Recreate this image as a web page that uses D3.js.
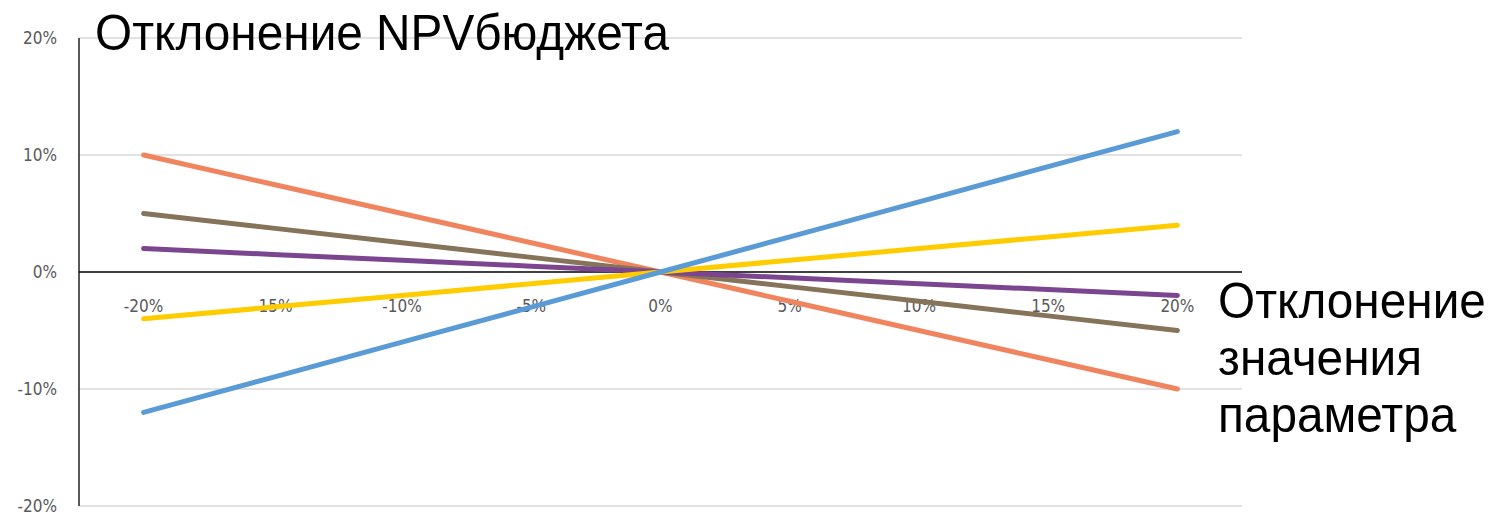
<!DOCTYPE html>
<html>
<head>
<meta charset="utf-8">
<script src="https://cdn.jsdelivr.net/npm/d3@7"></script>
<style>
  body { margin: 0; background: #fff; }
  svg { display: block; }
</style>
</head>
<body>
<div id="chart"></div>
<script>
const WIDTH = 1491;
const HEIGHT = 516;

// категории по оси X
const categories = ["-20%", "-15%", "-10%", "-5%", "0%", "5%", "10%", "15%", "20%"];
const yTicks = [-0.2, -0.1, 0, 0.1, 0.2];

// ряды
const blue   = [-0.12, -0.09, -0.06, -0.03, 0, 0.03, 0.06, 0.09, 0.12];
const orange = [0.10, 0.075, 0.05, 0.025, 0, -0.025, -0.05, -0.075, -0.10];
const brown  = [0.05, 0.0375, 0.025, 0.0125, 0, -0.0125, -0.025, -0.0375, -0.05];
const purple = [0.02, 0.015, 0.01, 0.005, 0, -0.005, -0.01, -0.015, -0.02];
const yellow = [-0.04, -0.03, -0.02, -0.01, 0, 0.01, 0.02, 0.03, 0.04];

const series = [
  { values: orange, color: "#F0845F" },
  { values: brown, color: "#85735A" },
  { values: purple, color: "#7C4590" },
  { values: yellow, color: "#FFCC00" },
  { values: blue, color: "#5B9BD5" }
];

const margin = { left: 79, right: 249, top: 38, bottom: 10 };

const svg = d3.select("#chart").append("svg")
  .attr("width", WIDTH)
  .attr("height", HEIGHT);

const x = d3.scaleBand()
  .domain(categories)
  .range([margin.left, WIDTH - margin.right]);

const y = d3.scaleLinear()
  .domain([-0.2, 0.2])
  .range([HEIGHT - margin.bottom, margin.top]);

const pct = d3.formatLocale({ decimal: ".", thousands: " ", grouping: [3], currency: ["", ""], minus: "-" }).format(".0%");

const tickFont = "'DejaVu Sans Condensed', 'Liberation Sans', sans-serif";

// сетка
svg.append("g")
  .selectAll("line")
  .data(yTicks.filter(d => d !== 0))
  .enter()
  .append("line")
  .attr("x1", margin.left)
  .attr("x2", WIDTH - margin.right)
  .attr("y1", d => y(d))
  .attr("y2", d => y(d))
  .attr("stroke", "#d9d9d9")
  .attr("stroke-width", 1.3);

// подписи оси Y
svg.append("g")
  .selectAll("text")
  .data(yTicks)
  .enter()
  .append("text")
  .attr("x", 57)
  .attr("y", d => y(d) + 6)
  .attr("text-anchor", "end")
  .attr("font-family", tickFont)
  .attr("font-size", "17px")
  .attr("fill", "#595959")
  .text(d => pct(d));

// ось Y
svg.append("line")
  .attr("x1", margin.left).attr("x2", margin.left)
  .attr("y1", y(0.2)).attr("y2", y(-0.2))
  .attr("stroke", "#000").attr("stroke-width", 1.3);

// нулевая линия
svg.append("line")
  .attr("x1", margin.left).attr("x2", WIDTH - margin.right)
  .attr("y1", y(0)).attr("y2", y(0))
  .attr("stroke", "#000").attr("stroke-width", 1.3);

// подписи категорий
svg.append("g")
  .selectAll("text")
  .data(categories)
  .enter()
  .append("text")
  .attr("x", d => x(d) + x.bandwidth() / 2)
  .attr("y", y(0) + 40)
  .attr("text-anchor", "middle")
  .attr("font-family", tickFont)
  .attr("font-size", "17px")
  .attr("fill", "#595959")
  .text(d => d);

// линии
const line = d3.line()
  .x((d, i) => x(categories[i]) + x.bandwidth() / 2)
  .y(d => y(d));

svg.append("g")
  .selectAll("path")
  .data(series)
  .enter()
  .append("path")
  .attr("d", d => line(d.values))
  .attr("fill", "none")
  .attr("stroke", d => d.color)
  .attr("stroke-width", 5)
  .attr("stroke-linecap", "round");

// заголовки осей (узкий Arial — сжимаем по горизонтали)
const bigFont = "'Liberation Sans', Arial, sans-serif";
const squeeze = 0.955;

svg.append("text")
  .attr("transform", `translate(95,50) scale(${squeeze},1)`)
  .attr("font-family", bigFont)
  .attr("font-size", "50px")
  .attr("fill", "#000")
  .text("Отклонение NPVбюджета");

const xTitle = svg.append("text")
  .attr("transform", `translate(1218,318) scale(${squeeze},1)`)
  .attr("font-family", bigFont)
  .attr("font-size", "50px")
  .attr("fill", "#000");

["Отклонение", "значения", "параметра"].forEach((t, i) => {
  xTitle.append("tspan")
    .attr("x", 0)
    .attr("dy", i === 0 ? 0 : 57)
    .text(t);
});
</script>
</body>
</html>
